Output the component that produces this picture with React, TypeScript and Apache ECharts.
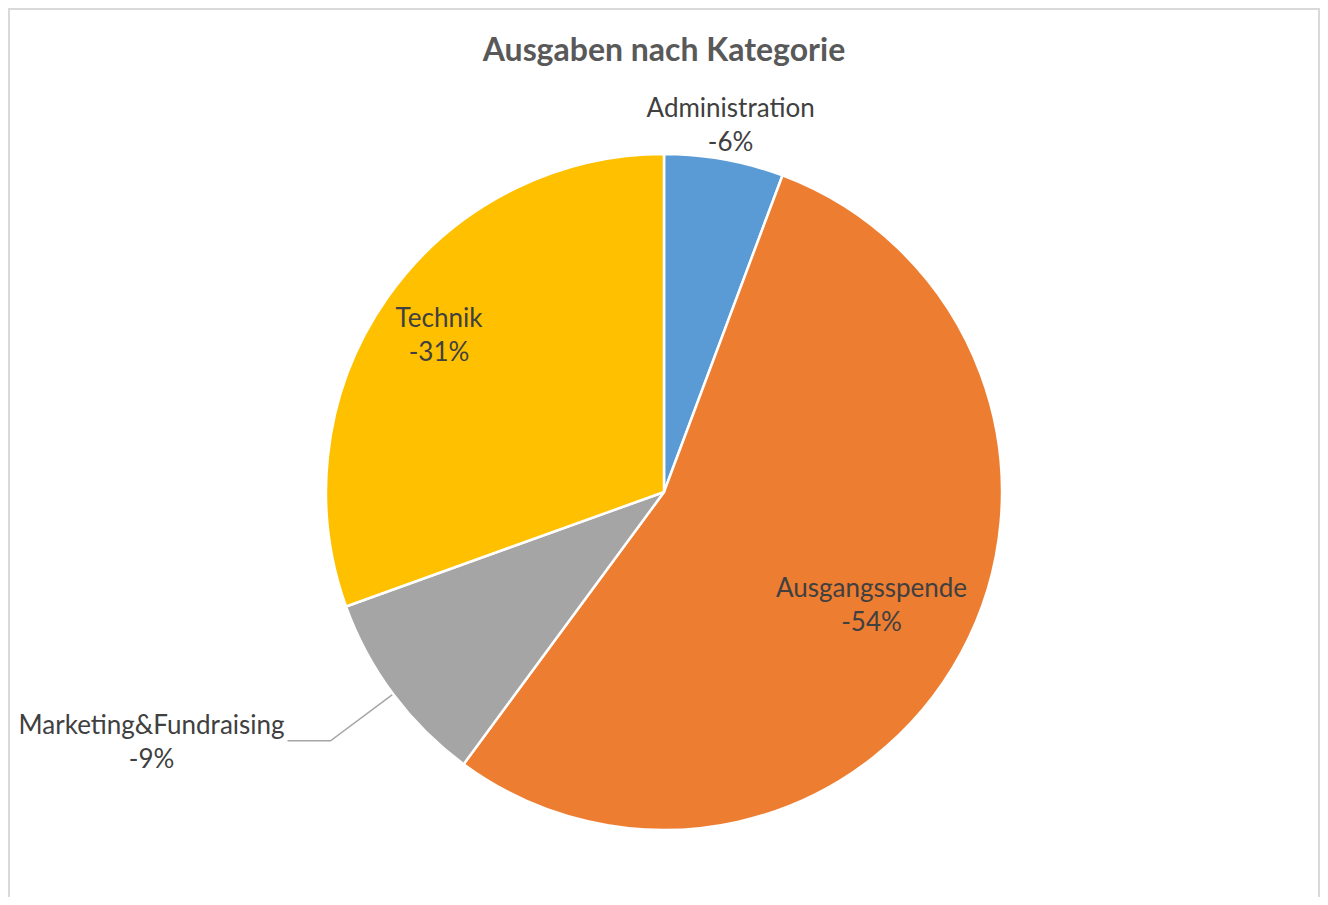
import React, { useEffect, useRef } from "react";
import * as echarts from "echarts";

const categories = ["Administration", "Ausgangsspende", "Marketing&Fundraising", "Technik"];
const values = [5.7, 54.4, 9.4, 30.5];
const colors = ["#5B9BD5", "#ED7D31", "#A5A5A5", "#FFC000"];
const titleText = "Ausgaben nach Kategorie";

const FONT = "Lato, 'Open Sans', sans-serif";
const CX = 656;
const CY = 484;
const R = 338;

const fmt = (p: any) => `{a|${p.name}}\n{a|-${Math.round(p.percent)}%}`;
const richA = { a: { fontFamily: FONT, fontSize: 26, lineHeight: 34, color: "#404040", align: "center" } };

function labelRing(radius: [number, number], show: string[], position: string, extra: any = {}) {
  return {
    type: "pie",
    silent: true,
    animation: false,
    center: [CX, CY],
    radius,
    startAngle: 90,
    clockwise: true,
    avoidLabelOverlap: false,
    emphasis: { disabled: true },
    itemStyle: { color: "transparent", borderWidth: 0 },
    labelLine: { show: false },
    data: categories.map((name, i) => ({
      name,
      value: values[i],
      label: { show: show.includes(name) },
    })),
    label: {
      position,
      formatter: fmt,
      rich: richA,
      ...extra,
    },
    z: 5,
  };
}

export default function App() {
  const ref = useRef<HTMLDivElement>(null);
  useEffect(() => {
    const chart = echarts.init(ref.current!, null, { renderer: "svg" });
    chart.setOption({
      animation: false,
      title: {
        text: titleText,
        left: "center",
        top: 19,
        textStyle: { fontFamily: FONT, fontSize: 32, fontWeight: "bold", color: "#595959" },
      },
      graphic: [
        {
          type: "rect",
          shape: { x: 1, y: 1, width: 1310, height: 1000 },
          style: { fill: "none", stroke: "#d9d9d9", lineWidth: 2 },
          silent: true,
        },
      ],
      series: [
        {
          type: "pie",
          silent: true,
          center: [CX, CY],
          radius: [0, R],
          startAngle: 90,
          clockwise: true,
          avoidLabelOverlap: false,
          emphasis: { disabled: true },
          itemStyle: { borderColor: "#ffffff", borderWidth: 2.5 },
          color: colors,
          data: categories.map((name, i) => ({
            name,
            value: values[i],
            label: { show: name === "Marketing&Fundraising" },
            labelLine: { show: name === "Marketing&Fundraising" },
          })),
          label: {
            position: "outside",
            formatter: fmt,
            rich: { a: { ...richA.a, width: 268 } },
            distanceToLabelLine: 2,
          },
          labelLine: {
            length: 78,
            length2: 43,
            smooth: false,
            lineStyle: { color: "#A6A6A6", width: 1.5 },
          },
        },
        labelRing([206, R], ["Technik"], "inside"),
        labelRing([128, R], ["Ausgangsspende"], "inside"),
        labelRing([R, R + 66], ["Administration"], "inside"),
      ],
    });
    return () => chart.dispose();
  }, []);
  return <div ref={ref} style={{ width: 1312, height: 889 }} />;
}
